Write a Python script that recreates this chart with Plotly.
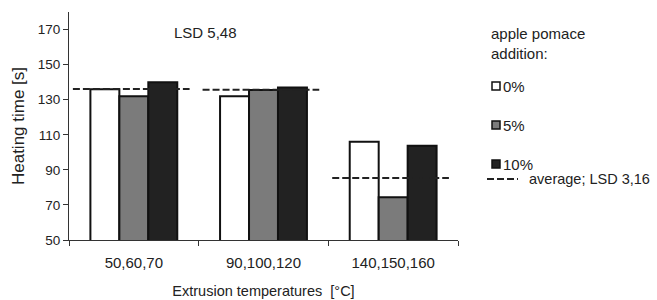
import plotly.graph_objects as go

categories = ["50,60,70", "90,100,120", "140,150,160"]
series_names = ["0%", "5%", "10%"]
values_0 = [136, 132, 106]
values_5 = [132, 135.5, 74.4]
values_10 = [140, 137, 103.7]
averages = [136.1, 135.7, 85.3]
y_ticks = [50, 70, 90, 110, 130, 150, 170]

fills = ["#ffffff", "#7b7b7b", "#222222"]
FONT = "Liberation Sans, Arial, sans-serif"
TXT = "#222222"

fig = go.Figure()
for name, vals, col in zip(series_names, [values_0, values_5, values_10], fills):
    fig.add_trace(go.Bar(
        x=categories, y=vals, name=name,
        marker=dict(color=col, line=dict(color="#111111", width=2)),
        showlegend=False,
    ))

# plot area geometry (pixels)
L, R, T, B = 69, 458, 12, 240
W, H = 657, 300

def px(x):
    return (x - L) / (R - L)

def py(y):
    return (B - y) / (B - T)

shapes = []
for i, avg in enumerate(averages):
    shapes.append(dict(type="line", xref="x", yref="y",
                       x0=i - 0.47, x1=i + 0.43, y0=avg, y1=avg,
                       line=dict(color="#222222", width=2, dash="7px,3px")))

# legend markers
leg_y = [86, 125, 164]
for yy, col in zip(leg_y, fills):
    shapes.append(dict(type="rect", xref="paper", yref="paper",
                       x0=px(492), x1=px(500), y0=py(yy + 4), y1=py(yy - 4),
                       fillcolor=col, line=dict(color="#111111", width=1.5)))
shapes.append(dict(type="line", xref="paper", yref="paper",
                   x0=px(487), x1=px(518), y0=py(179), y1=py(179),
                   line=dict(color="#222222", width=2, dash="7px,3px")))

annotations = [
    dict(text="LSD 5,48", xref="paper", yref="paper", x=px(172), y=py(33),
         xanchor="left", yanchor="middle", showarrow=False,
         font=dict(family=FONT, size=15, color=TXT)),
    dict(text="apple pomace<br>addition:", xref="paper", yref="paper",
         x=px(489), y=py(43), xanchor="left", yanchor="middle", align="left",
         showarrow=False, font=dict(family=FONT, size=15, color=TXT)),
]
for yy, name in zip(leg_y, series_names):
    annotations.append(dict(text=name, xref="paper", yref="paper",
                            x=px(501), y=py(yy), xanchor="left", yanchor="middle",
                            showarrow=False, font=dict(family=FONT, size=15, color=TXT)))
annotations.append(dict(text="average; LSD 3,16", xref="paper", yref="paper",
                        x=px(527), y=py(179), xanchor="left", yanchor="middle",
                        showarrow=False, font=dict(family=FONT, size=14.5, color=TXT)))

fig.update_layout(
    width=W, height=H,
    margin=dict(l=L, r=W - R, t=T, b=H - B, autoexpand=False),
    paper_bgcolor="white", plot_bgcolor="white",
    barmode="group", bargap=0.33, bargroupgap=0,
    shapes=shapes, annotations=annotations,
    font=dict(family=FONT, color=TXT),
    xaxis=dict(
        type="category", range=[-0.5, 2.5], automargin=False,
        showline=True, linecolor="#333333", linewidth=1,
        ticks="outside", tickson="boundaries", ticklen=5, tickcolor="#333333",
        tickfont=dict(size=15, color=TXT), ticklabelstandoff=9,
        showgrid=False,
        title=dict(text="Extrusion temperatures  [°C]", standoff=15,
                   font=dict(size=14.5, color=TXT)),
    ),
    yaxis=dict(
        range=[50, 180], tickvals=y_ticks, automargin=False,
        showline=True, linecolor="#333333", linewidth=1,
        ticks="outside", ticklen=5, tickcolor="#333333",
        tickfont=dict(size=13.5, color=TXT),
        showgrid=False, zeroline=False,
        title=dict(text="Heating time [s]", standoff=8,
                   font=dict(size=17, color=TXT)),
    ),
)

fig.write_html("out.html", config={"displayModeBar": False},
               post_script="document.body.style.margin='0';")
